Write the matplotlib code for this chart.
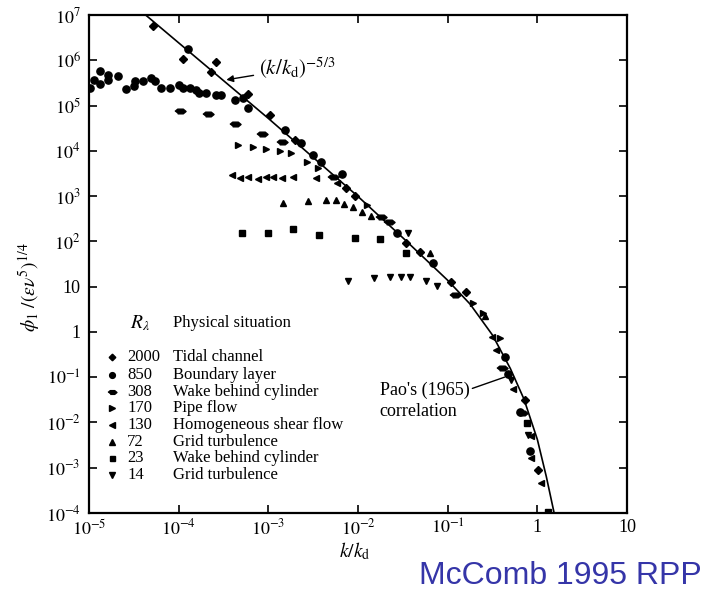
import matplotlib
matplotlib.use("Agg")
import matplotlib.pyplot as plt
from matplotlib.ticker import FixedLocator, FixedFormatter, NullLocator

plt.rcParams['font.family'] = ['Liberation Serif', 'DejaVu Serif']
plt.rcParams['mathtext.fontset'] = 'stix'

# Pao's (1965) correlation
pao_k = [4e-5, 1e-3, 1e-2, 0.0316, 0.1, 0.178, 0.316, 0.5, 0.708, 1.0, 1.26, 1.58]
pao_phi = [1.12e7, 5.2e4, 980, 120, 13.8, 4.1, 0.85, 0.155, 0.033, 0.0042, 6.3e-4, 7.8e-5]

# R_lambda = 2000, tidal channel
tidal_k = [5.2e-5, 1.12e-4, 2.3e-4, 2.6e-4, 6.0e-4, 1.05e-3, 2.0e-3, 7.4e-3, 9.3e-3,
           0.034, 0.049, 0.11, 0.162, 0.72, 1.02]
tidal_phi = [5.7e6, 1.05e6, 5.6e5, 9.0e5, 1.8e5, 6.2e4, 1.7e4, 1.5e3, 980,
             94, 59, 12.9, 7.8, 0.031, 9.1e-4]

# R_lambda = 850, boundary layer
bl_k = [1.02e-5, 1.15e-5, 1.32e-5, 1.32e-5, 1.64e-5, 1.64e-5, 2.09e-5, 2.57e-5, 3.2e-5,
        3.24e-5, 4.03e-5, 4.9e-5, 5.5e-5, 6.3e-5, 7.9e-5, 1.02e-4, 1.12e-4, 1.26e-4,
        1.35e-4, 1.58e-4, 1.7e-4, 2.04e-4, 2.63e-4, 3.0e-4, 4.2e-4, 5.2e-4, 6.0e-4,
        1.55e-3, 2.34e-3, 3.16e-3, 3.9e-3, 6.6e-3, 0.027, 0.069, 0.44, 0.47, 0.64, 0.83]
bl_phi = [2.4e5, 3.6e5, 3.0e5, 5.8e5, 4.7e5, 3.6e5, 4.4e5, 2.3e5, 2.7e5,
          3.4e5, 3.4e5, 4.0e5, 3.4e5, 2.5e5, 2.5e5, 2.8e5, 2.5e5, 1.8e6,
          2.4e5, 2.2e5, 1.9e5, 1.9e5, 1.7e5, 1.7e5, 1.3e5, 1.5e5, 8.7e4,
          2.9e4, 1.5e4, 8.1e3, 5.8e3, 3.1e3, 150, 33, 0.28, 0.12, 0.017, 0.0024]

# R_lambda = 308, wake behind cylinder
wake308_k = [1.04e-4, 2.14e-4, 4.3e-4, 8.4e-4, 1.41e-3, 5.2e-3, 0.018, 0.022, 0.12, 0.40, 0.67]
wake308_phi = [7.6e4, 6.5e4, 3.9e4, 2.4e4, 1.6e4, 2.7e3, 350, 270, 6.5, 0.16, 0.016]

# R_lambda = 170, pipe flow
pipe_k = [4.6e-4, 6.8e-4, 9.3e-4, 1.35e-3, 1.78e-3, 2.7e-3, 3.6e-3, 0.0126, 0.19, 0.25, 0.38]
pipe_phi = [1.35e4, 1.2e4, 1.1e4, 1.0e4, 8.8e3, 5.8e3, 4.1e3, 630, 4.3, 2.6, 0.72]

# R_lambda = 130, homogeneous shear flow
shear_k = [3.9e-4, 4.8e-4, 6.0e-4, 7.6e-4, 9.3e-4, 1.14e-3, 1.41e-3, 1.86e-3, 3.4e-3,
           5.8e-3, 0.31, 0.35, 0.54, 0.86, 0.86, 1.11]
shear_phi = [2.9e3, 2.5e3, 2.7e3, 2.4e3, 2.6e3, 2.6e3, 2.5e3, 2.7e3, 2.5e3,
             1.9e3, 0.78, 0.40, 0.056, 0.005, 0.0016, 4.7e-4]

# R_lambda = 72, grid turbulence
grid72_k = [1.45e-3, 2.8e-3, 4.4e-3, 5.7e-3, 7.0e-3, 8.7e-3, 0.0112, 0.0141, 0.063, 0.26]
grid72_phi = [690, 760, 810, 810, 670, 570, 450, 363, 54, 2.3]

# R_lambda = 23, wake behind cylinder
wake23_k = [5.1e-4, 9.8e-4, 1.9e-3, 3.7e-3, 9.2e-3, 0.0174, 0.034, 0.76, 1.32]
wake23_phi = [150, 150, 185, 138, 120, 111, 56, 0.0095, 1.05e-4]

# R_lambda = 14, grid turbulence
grid14_k = [7.8e-3, 0.0151, 0.0226, 0.0305, 0.038, 0.057, 0.076, 0.036, 0.51, 0.79]
grid14_phi = [13.3, 15.2, 16, 16, 16.6, 13.5, 10.2, 150, 0.087, 0.0052]

r_lambda = ['2000', '850', '308', '170', '130', '72', '23', '14']
situations = ['Tidal channel', 'Boundary layer', 'Wake behind cylinder', 'Pipe flow',
              'Homogeneous shear flow', 'Grid turbulence', 'Wake behind cylinder',
              'Grid turbulence']

wide = [(-1, 0), (-0.5, 0.42), (0.5, 0.42), (1, 0), (0.5, -0.42), (-0.5, -0.42)]
series = [
    (tidal_k, tidal_phi, 'D', 4.2),
    (bl_k, bl_phi, 'o', 5.2),
    (wake308_k, wake308_phi, wide, 8),
    (pipe_k, pipe_phi, '>', 5),
    (shear_k, shear_phi, '<', 5),
    (grid72_k, grid72_phi, '^', 5),
    (wake23_k, wake23_phi, 's', 4.5),
    (grid14_k, grid14_phi, 'v', 5),
]

fig = plt.figure(figsize=(7.11, 5.91), dpi=100)
ax = fig.add_axes([0.1252, 0.132, 0.7567, 0.8426])

ax.plot(pao_k, pao_phi, color='black', lw=1.2, zorder=2)
for k, phi, m, ms in series:
    ax.plot(k, phi, linestyle='none', marker=m, ms=ms, color='black', mec='black', zorder=3)

ax.set_xscale('log')
ax.set_yscale('log')
ax.set_xlim(1e-5, 10)
ax.set_ylim(1e-4, 1e7)

xt = [1e-5, 1e-4, 1e-3, 1e-2, 1e-1, 1, 10]
xl = [r'$10^{-5}$', r'$10^{-4}$', r'$10^{-3}$', r'$10^{-2}$', r'$10^{-1}$', '1', '10']
yt = [10.0 ** e for e in range(-4, 8)]
yl = [r'$10^{-4}$', r'$10^{-3}$', r'$10^{-2}$', r'$10^{-1}$', '1', '10',
      r'$10^{2}$', r'$10^{3}$', r'$10^{4}$', r'$10^{5}$', r'$10^{6}$', r'$10^{7}$']
ax.xaxis.set_major_locator(FixedLocator(xt))
ax.xaxis.set_major_formatter(FixedFormatter(xl))
ax.yaxis.set_major_locator(FixedLocator(yt))
ax.yaxis.set_major_formatter(FixedFormatter(yl))
ax.xaxis.set_minor_locator(NullLocator())
ax.yaxis.set_minor_locator(NullLocator())
ax.tick_params(which='major', direction='in', length=6, width=1.2,
               top=True, right=True, labelsize=13, pad=6)
ax.tick_params(axis='x', pad=4)
for s in ax.spines.values():
    s.set_linewidth(1.6)

fig.text(30 / 711, 1 - 287 / 591, r'$\phi_1\ /(\varepsilon\nu^5)^{1/4}$',
         rotation=90, ha='center', va='center', fontsize=14)
fig.text(355 / 711, 1 - 551 / 591, r'$k/k_{\rm d}$', ha='center', va='center', fontsize=14)

# legend drawn by hand
ax.text(0.076, 0.382, r'$R_\lambda$', transform=ax.transAxes, fontsize=14, va='center')
ax.text(0.156, 0.382, 'Physical situation', transform=ax.transAxes, fontsize=12, va='center')
rows_y = [0.313, 0.277, 0.243, 0.211, 0.177, 0.143, 0.110, 0.076]
for (k, phi, m, ms), r, sit, yy in zip(series, r_lambda, situations, rows_y):
    ax.plot([0.043], [yy], transform=ax.transAxes, marker=m, ms=ms * 0.8,
            color='black', linestyle='none')
    ax.text(0.071, yy, r, transform=ax.transAxes, fontsize=12, va='center')
    ax.text(0.156, yy, sit, transform=ax.transAxes, fontsize=12, va='center')

ax.annotate(r'$(k/k_{\rm d})^{-5/3}$', xy=(3.4e-4, 3.7e5), xytext=(2.1e-3, 6.7e5),
            fontsize=15, va='center', ha='center',
            arrowprops=dict(arrowstyle='-|>', color='black', lw=1, mutation_scale=10,
                            shrinkA=2, shrinkB=0))
ax.annotate("Pao's (1965)\ncorrelation", xy=(0.43, 0.1), xytext=(0.0175, 0.03),
            fontsize=13, va='center', ha='left', linespacing=1.3,
            arrowprops=dict(arrowstyle='-', color='black', lw=1, shrinkA=0, shrinkB=0,
                            relpos=(1.0, 0.8)))

fig.text(560 / 711, 1 - 576 / 591, 'McComb 1995 RPP', ha='center', va='center',
         fontsize=23, color='#3535a8', family=['Liberation Sans', 'DejaVu Sans'])

fig.savefig('out.png', dpi=100)
